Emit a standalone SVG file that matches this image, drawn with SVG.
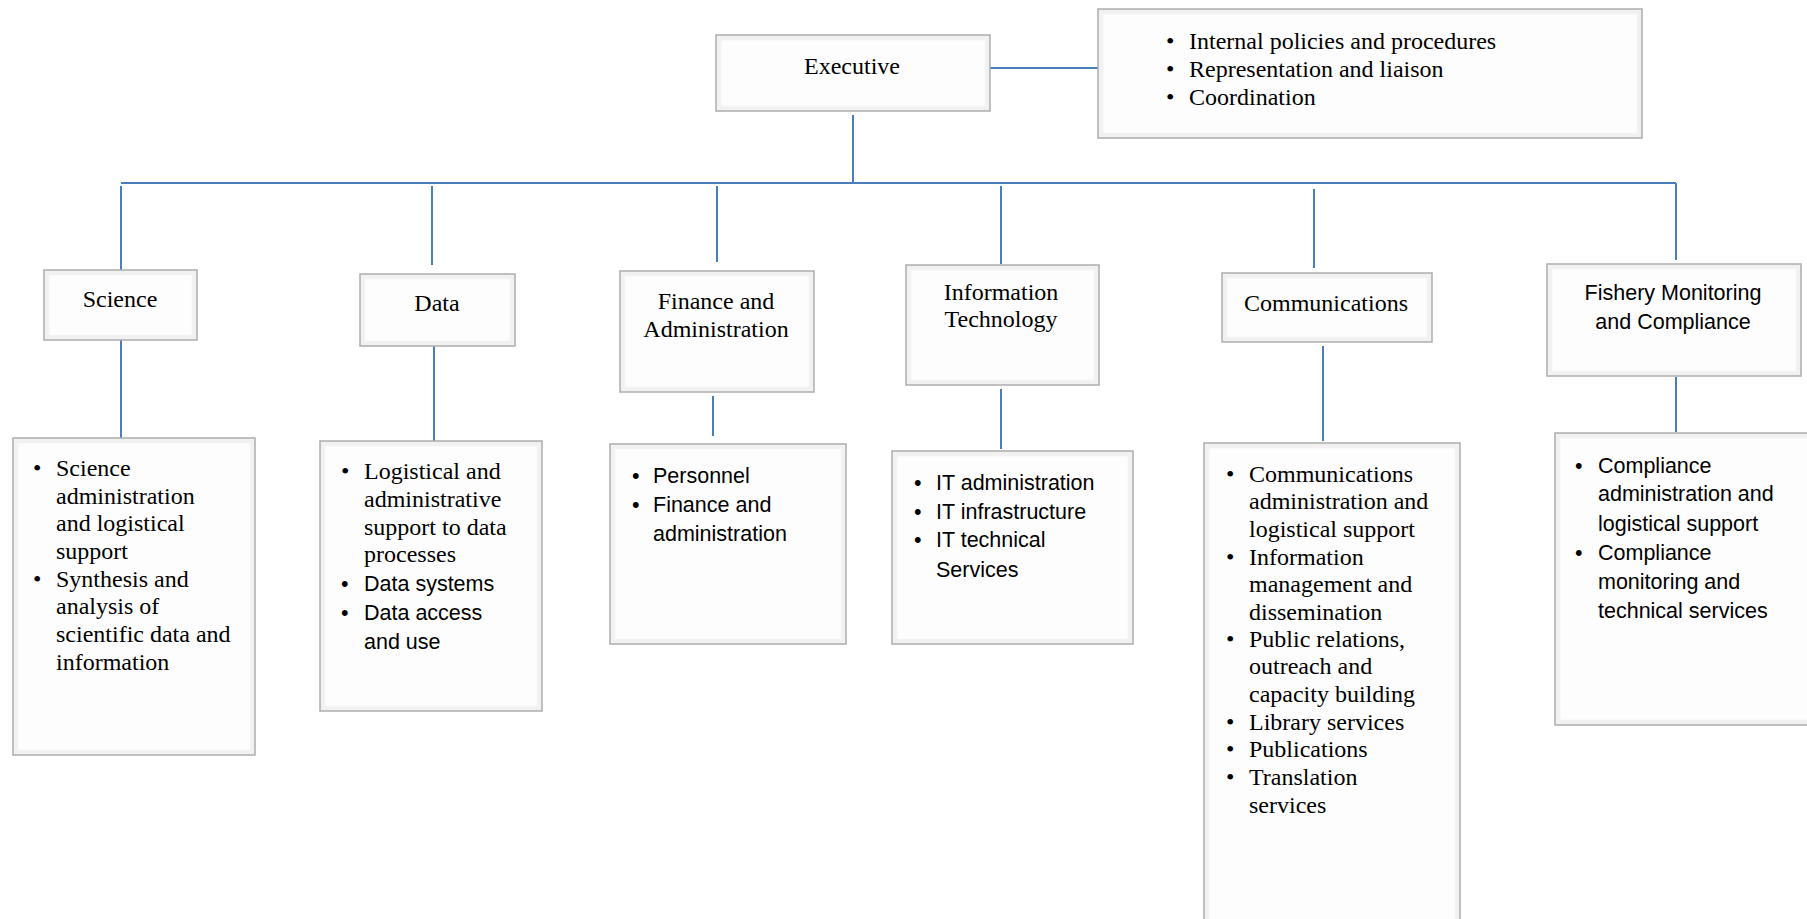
<svg xmlns="http://www.w3.org/2000/svg" width="1807" height="919" viewBox="0 0 1807 919">
<style>
.box{fill:#f1f1f1;stroke:#adadad;stroke-width:1.5}
.inner{fill:#fdfdfd;stroke:#f6f6f6;stroke-width:1}
.ser{font-family:"Liberation Serif","Times New Roman",serif;font-size:24px;fill:#000}
.sans{font-family:"Liberation Sans",Arial,sans-serif;font-size:21.5px;fill:#000}
.c{text-anchor:middle}
.ln{stroke:#4a7ebb;stroke-width:2;fill:none}
</style>
<rect width="1807" height="919" fill="#ffffff"/>

<g id="connectors">
<path class="ln" d="M990,68 H1098"/>
<path class="ln" d="M853,115 V183"/>
<path class="ln" d="M121,183 H1676"/>
<path class="ln" d="M121,186 V270"/>
<path class="ln" d="M432,186 V265"/>
<path class="ln" d="M717,186 V262"/>
<path class="ln" d="M1001,186 V264"/>
<path class="ln" d="M1314,189 V268"/>
<path class="ln" d="M1676,183 V260"/>
<path class="ln" d="M121,340 V439"/>
<path class="ln" d="M434,346 V441"/>
<path class="ln" d="M713,396 V436"/>
<path class="ln" d="M1001,389 V449"/>
<path class="ln" d="M1323,346 V441"/>
<path class="ln" d="M1676,377 V432"/>
</g>

<g id="executive">
<rect class="box" x="716" y="35" width="274" height="76"/>
<rect class="inner" x="721" y="40" width="264" height="66"/>
<text class="ser c" x="852" y="74">Executive</text>
</g>

<g id="executive-duties">
<rect class="box" x="1098" y="9" width="544" height="129"/>
<rect class="inner" x="1103" y="14" width="534" height="119"/>
<text class="ser" x="1166" y="49">•</text><text class="ser" x="1189" y="49">Internal policies and procedures</text>
<text class="ser" x="1166" y="77">•</text><text class="ser" x="1189" y="77">Representation and liaison</text>
<text class="ser" x="1166" y="105">•</text><text class="ser" x="1189" y="105">Coordination</text>
</g>

<g id="science">
<rect class="box" x="44" y="270" width="153" height="70"/>
<rect class="inner" x="49" y="275" width="143" height="60"/>
<text class="ser c" x="120" y="307">Science</text>
</g>
<g id="science-duties">
<rect class="box" x="13" y="438" width="242" height="317"/>
<rect class="inner" x="18" y="443" width="232" height="307"/>
<text class="ser" x="33" y="476">•</text><text class="ser" x="56" y="476">Science</text>
<text class="ser" x="56" y="504">administration</text>
<text class="ser" x="56" y="531">and logistical</text>
<text class="ser" x="56" y="559">support</text>
<text class="ser" x="33" y="587">•</text><text class="ser" x="56" y="587">Synthesis and</text>
<text class="ser" x="56" y="614">analysis of</text>
<text class="ser" x="56" y="642">scientific data and</text>
<text class="ser" x="56" y="670">information</text>
</g>

<g id="data">
<rect class="box" x="360" y="274" width="155" height="72"/>
<rect class="inner" x="365" y="279" width="145" height="62"/>
<text class="ser c" x="437" y="311">Data</text>
</g>
<g id="data-duties">
<rect class="box" x="320" y="441" width="222" height="270"/>
<rect class="inner" x="325" y="446" width="212" height="260"/>
<text class="ser" x="341" y="479">•</text><text class="ser" x="364" y="479">Logistical and</text>
<text class="ser" x="364" y="507">administrative</text>
<text class="ser" x="364" y="535">support to data</text>
<text class="ser" x="364" y="562">processes</text>
<text class="sans" x="341" y="591">•</text><text class="sans" x="364" y="591">Data systems</text>
<text class="sans" x="341" y="620">•</text><text class="sans" x="364" y="620">Data access</text>
<text class="sans" x="364" y="649">and use</text>
</g>

<g id="finance">
<rect class="box" x="620" y="271" width="194" height="121"/>
<rect class="inner" x="625" y="276" width="184" height="111"/>
<text class="ser c" x="716" y="309">Finance and</text>
<text class="ser c" x="716" y="337">Administration</text>
</g>
<g id="finance-duties">
<rect class="box" x="610" y="444" width="236" height="200"/>
<rect class="inner" x="615" y="449" width="226" height="190"/>
<text class="sans" x="632" y="483">•</text><text class="sans" x="653" y="483">Personnel</text>
<text class="sans" x="632" y="512">•</text><text class="sans" x="653" y="512">Finance and</text>
<text class="sans" x="653" y="541">administration</text>
</g>

<g id="it">
<rect class="box" x="906" y="265" width="193" height="120"/>
<rect class="inner" x="911" y="270" width="183" height="110"/>
<text class="ser c" x="1001" y="300">Information</text>
<text class="ser c" x="1001" y="327">Technology</text>
</g>
<g id="it-duties">
<rect class="box" x="892" y="451" width="241" height="193"/>
<rect class="inner" x="897" y="456" width="231" height="183"/>
<text class="sans" x="914" y="490">•</text><text class="sans" x="936" y="490">IT administration</text>
<text class="sans" x="914" y="519">•</text><text class="sans" x="936" y="519">IT infrastructure</text>
<text class="sans" x="914" y="547">•</text><text class="sans" x="936" y="547">IT technical</text>
<text class="sans" x="936" y="577">Services</text>
</g>

<g id="communications">
<rect class="box" x="1222" y="273" width="210" height="69"/>
<rect class="inner" x="1227" y="278" width="200" height="59"/>
<text class="ser c" x="1326" y="311">Communications</text>
</g>
<g id="communications-duties">
<rect class="box" x="1204" y="443" width="256" height="490"/>
<rect class="inner" x="1209" y="448" width="246" height="480"/>
<text class="ser" x="1226" y="482">•</text><text class="ser" x="1249" y="482">Communications</text>
<text class="ser" x="1249" y="509">administration and</text>
<text class="ser" x="1249" y="537">logistical support</text>
<text class="ser" x="1226" y="565">•</text><text class="ser" x="1249" y="565">Information</text>
<text class="ser" x="1249" y="592">management and</text>
<text class="ser" x="1249" y="620">dissemination</text>
<text class="ser" x="1226" y="647">•</text><text class="ser" x="1249" y="647">Public relations,</text>
<text class="ser" x="1249" y="674">outreach and</text>
<text class="ser" x="1249" y="702">capacity building</text>
<text class="ser" x="1226" y="730">•</text><text class="ser" x="1249" y="730">Library services</text>
<text class="ser" x="1226" y="757">•</text><text class="ser" x="1249" y="757">Publications</text>
<text class="ser" x="1226" y="785">•</text><text class="ser" x="1249" y="785">Translation</text>
<text class="ser" x="1249" y="813">services</text>
</g>

<g id="fishery">
<rect class="box" x="1547" y="264" width="254" height="112"/>
<rect class="inner" x="1552" y="269" width="244" height="102"/>
<text class="sans c" x="1673" y="300">Fishery Monitoring</text>
<text class="sans c" x="1673" y="329">and Compliance</text>
</g>
<g id="fishery-duties">
<rect class="box" x="1555" y="433" width="262" height="292"/>
<rect class="inner" x="1560" y="438" width="252" height="282"/>
<text class="sans" x="1575" y="473">•</text><text class="sans" x="1598" y="473">Compliance</text>
<text class="sans" x="1598" y="501">administration and</text>
<text class="sans" x="1598" y="531">logistical support</text>
<text class="sans" x="1575" y="560">•</text><text class="sans" x="1598" y="560">Compliance</text>
<text class="sans" x="1598" y="589">monitoring and</text>
<text class="sans" x="1598" y="618">technical services</text>
</g>
</svg>
